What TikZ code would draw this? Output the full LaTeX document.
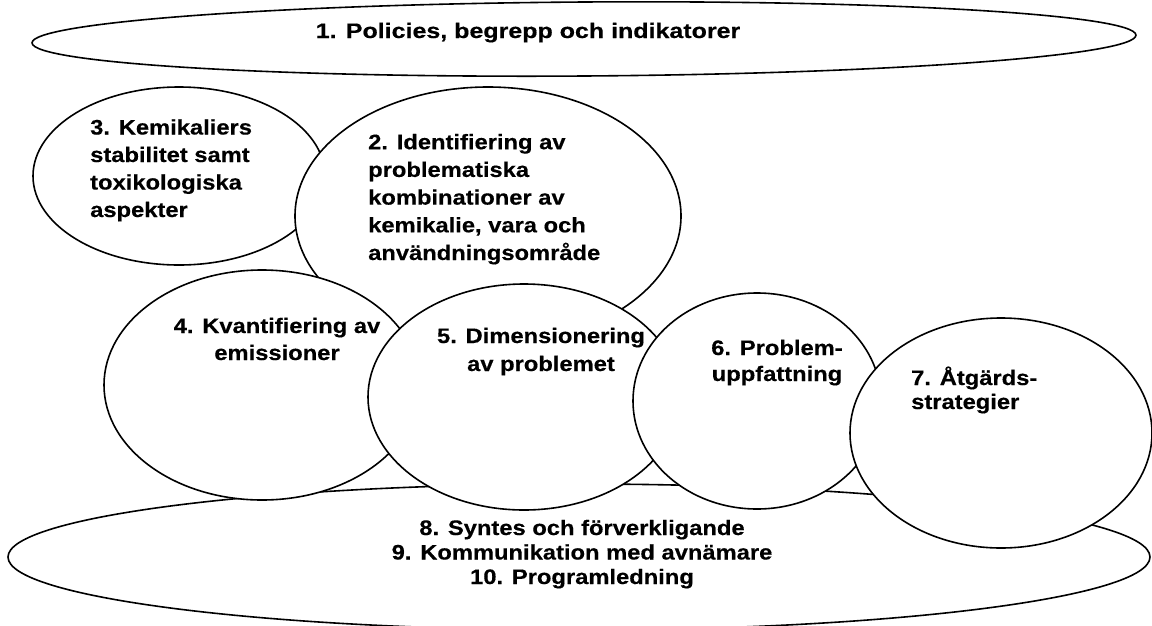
\documentclass[tikz,border=0pt]{standalone}
\usepackage{fontspec}
\setmainfont{Liberation Sans}[FakeStretch=1.13, BoldFeatures={FakeBold=0.4}]
\newfontfamily\widefont{Liberation Sans}[FakeStretch=1.19, BoldFeatures={FakeBold=0.4}]
\usetikzlibrary{shapes.geometric}

\tikzset{
  blob/.style={ellipse, draw=black, fill=white, line width=1.6pt, inner sep=0pt, outer sep=0pt},
  label/.style={inner sep=0pt, font=\bfseries\fontsize{21}{27.5}\selectfont},
}

\begin{document}
\begin{tikzpicture}[x=1pt, y=-1pt]
  \useasboundingbox (0,0) rectangle (1152,625);
  \fill[white] (0,0) rectangle (1152,625);

  % bottom band: synthesis, communication, programme management
  \node[blob, minimum width=1142pt, minimum height=146pt] (e8) at (579,557) {};

  % top band: policies
  \node[blob, minimum width=1104pt, minimum height=74pt, rotate=0.4] (e1) at (584,39) {};

  % work packages, back to front
  \node[blob, minimum width=292pt, minimum height=178pt] (e3) at (179,176) {};
  \node[blob, minimum width=386pt, minimum height=258pt] (e2) at (488,216) {};
  \node[blob, minimum width=316pt, minimum height=230pt] (e4) at (262,385) {};
  \node[blob, minimum width=312pt, minimum height=226pt] (e5) at (524,397) {};
  \node[blob, minimum width=248pt, minimum height=216pt] (e6) at (757,401) {};
  \node[blob, minimum width=302pt, minimum height=230pt] (e7) at (1001,433) {};

  % texts (multi-line labels are anchored at the baseline of their last line)
  \node[label, anchor=base, font=\widefont\bfseries\fontsize{21}{27.5}\selectfont] (t1) at (528,38)
    {1. Policies, begrepp och indikatorer};
  \node[label, anchor=base west, align=left] (t3) at (90,217)
    {3. Kemikaliers\\stabilitet samt\\toxikologiska\\aspekter};
  \node[label, anchor=base west, align=left, font=\bfseries\fontsize{21}{27.7}\selectfont] (t2) at (368,260)
    {2. Identifiering av\\problematiska\\kombinationer av\\kemikalie, vara och\\användningsområde};
  \node[label, anchor=base, align=center, font=\bfseries\fontsize{21}{27}\selectfont] (t4) at (277,360)
    {4. Kvantifiering av\\emissioner};
  \node[label, anchor=base, align=center, font=\bfseries\fontsize{21}{28}\selectfont] (t5) at (541,371)
    {5. Dimensionering\\av problemet};
  \node[label, anchor=base, align=center, font=\bfseries\fontsize{21}{26}\selectfont] (t6) at (777,381)
    {6. Problem-\\uppfattning};
  \node[label, anchor=base west, align=left, font=\bfseries\fontsize{21}{24}\selectfont] (t7) at (911,409)
    {7. Åtgärds-\\strategier};
  \node[label, anchor=base, align=center, font=\bfseries\fontsize{21}{24.5}\selectfont] (t8) at (582,584)
    {8. Syntes och förverkligande\\9. Kommunikation med avnämare\\10. Programledning};
\end{tikzpicture}
\end{document}
